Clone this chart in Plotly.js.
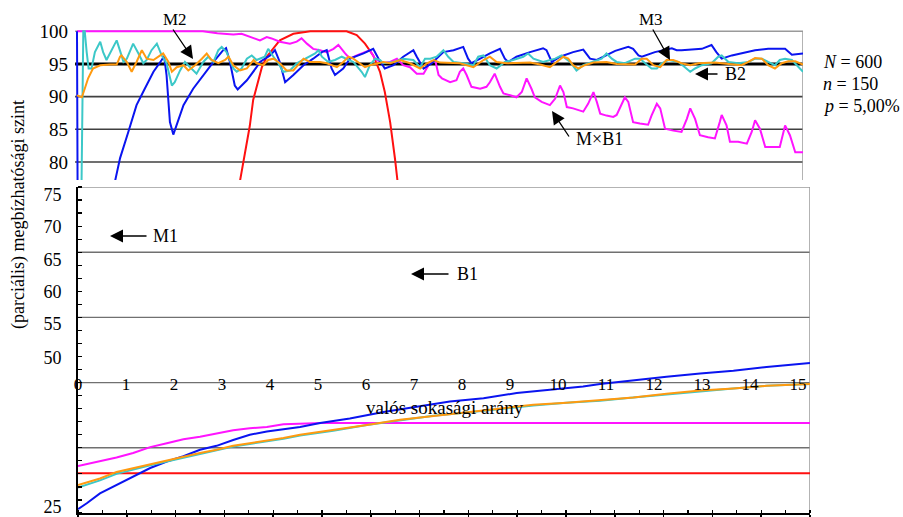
<!DOCTYPE html>
<html><head><meta charset="utf-8">
<script src="https://cdn.plot.ly/plotly-3.0.1.min.js"></script>
<style>html,body{margin:0;padding:0;background:#fff}#chart{width:903px;height:517px}</style>
</head><body><div id="chart"></div>
<script>
// ---------- data (x = valós sokasági arány, y = megbízhatósági szint) ----------
const blueTop = [[0,100],[0.03,40],[0.79,77.2],[0.89,80.6],[1.06,84.6],[1.23,88.7],[1.40,91.2],[1.58,93.8],[1.75,95.6],[1.80,96.2],[1.85,93.3],[1.92,86.1],[1.99,84.2],[2.06,85.6],[2.20,88.7],[2.40,91.2],[2.61,93.3],[2.82,95.3],[3.02,97.1],[3.08,97.4],[3.16,95.3],[3.26,91.7],[3.32,91.1],[3.51,92.5],[3.71,94.5],[3.78,95.3],[3.99,96.3],[4.09,97.1],[4.19,95.3],[4.30,92.2],[4.47,93.3],[4.68,94.8],[4.88,95.8],[5.06,96.8],[5.16,97.1],[5.26,94.3],[5.33,93.3],[5.50,94.3],[5.64,95.8],[5.92,96.6],[6.12,97.3],[6.23,95.8],[6.36,94.3],[6.54,94.8],[6.74,96.1],[6.95,97.1],[7.02,96.1],[7.16,94.3],[7.33,95.1],[7.57,96.8],[7.78,97.1],[7.98,97.6],[8.08,95.8],[8.15,95.1],[8.33,95.8],[8.53,96.6],[8.74,97.3],[8.84,95.8],[8.91,95.3],[9.08,96.1],[9.36,96.8],[9.63,97.4],[9.70,97.1],[9.81,95.3],[9.98,96.1],[10.25,96.8],[10.46,97.2],[10.60,95.8],[10.74,95.6],[10.94,96.3],[11.12,97.0],[11.39,97.6],[11.49,97.3],[11.60,96.3],[11.67,96.1],[11.94,96.8],[12.29,97.4],[12.39,97.1],[12.49,97.1],[12.91,97.3],[13.11,97.9],[13.21,96.8],[13.32,95.8],[13.53,96.3],[13.80,96.8],[14.01,97.1],[14.28,97.3],[14.63,97.3],[14.77,96.4],[15.0,96.6]];
const cyanTop = [[0,50],[0.06,55],[0.13,100],[0.16,100],[0.20,96.8],[0.24,94.3],[0.30,94.3],[0.37,96.8],[0.48,98.4],[0.54,96.8],[0.61,95.6],[0.72,97.3],[0.82,98.6],[0.92,96.3],[0.96,95.3],[1.03,95.8],[1.16,98.1],[1.27,96.6],[1.37,95.1],[1.44,95.6],[1.54,97.1],[1.65,98.1],[1.75,96.3],[1.85,95.1],[1.96,91.7],[2.02,92.2],[2.13,94.0],[2.23,95.3],[2.37,94.3],[2.47,93.5],[2.61,95.3],[2.71,96.1],[2.82,95.3],[2.92,97.1],[2.99,97.6],[3.09,96.8],[3.23,94.3],[3.30,93.8],[3.40,94.3],[3.51,95.8],[3.61,96.3],[3.71,95.6],[3.88,96.1],[3.95,97.3],[4.06,96.1],[4.16,95.1],[4.26,93.8],[4.40,94.0],[4.54,95.1],[4.71,95.8],[4.92,96.6],[4.99,97.1],[5.06,96.1],[5.19,95.3],[5.33,95.6],[5.47,96.1],[5.57,95.8],[5.71,95.3],[5.88,93.8],[5.95,93.0],[6.05,94.8],[6.16,95.8],[6.26,95.6],[6.33,95.1],[6.54,95.3],[6.74,95.8],[6.95,95.6],[7.09,94.5],[7.19,95.8],[7.30,95.8],[7.43,96.1],[7.57,97.1],[7.67,96.1],[7.78,95.3],[7.98,95.1],[8.19,94.8],[8.29,96.1],[8.40,96.3],[8.53,94.8],[8.67,94.3],[8.84,95.3],[9.01,95.6],[9.22,96.1],[9.32,96.6],[9.43,95.8],[9.63,95.3],[9.88,95.8],[10.01,96.3],[10.19,95.3],[10.32,94.0],[10.46,94.8],[10.67,95.3],[10.84,95.8],[10.94,96.6],[11.05,95.8],[11.15,95.3],[11.32,95.1],[11.53,95.8],[11.63,95.8],[11.74,95.1],[11.87,94.3],[11.98,94.3],[12.08,95.1],[12.22,95.6],[12.43,95.3],[12.56,94.5],[12.67,93.8],[12.77,94.3],[12.91,94.8],[13.11,95.1],[13.25,96.1],[13.32,96.3],[13.46,95.3],[13.66,95.1],[13.87,95.3],[14.01,95.8],[14.15,95.8],[14.28,95.3],[14.42,94.8],[14.52,95.6],[14.63,95.8],[14.77,95.6],[14.90,94.5],[15.0,93.8]];
const orangeTop = [[0,90.2],[0.10,89.9],[0.16,91.2],[0.23,92.8],[0.33,94.3],[0.48,94.8],[0.68,94.9],[0.82,94.9],[0.89,96.1],[0.92,96.3],[1.03,95.3],[1.13,93.8],[1.23,95.3],[1.34,97.1],[1.44,95.8],[1.58,95.6],[1.72,96.3],[1.78,96.6],[1.89,95.3],[1.96,93.8],[2.06,94.5],[2.20,94.8],[2.30,94.0],[2.44,94.8],[2.58,95.8],[2.68,96.6],[2.78,95.6],[2.92,95.1],[3.06,95.6],[3.13,96.1],[3.23,94.8],[3.37,94.0],[3.51,94.3],[3.65,95.6],[3.71,95.1],[3.85,94.8],[3.95,95.6],[4.06,95.8],[4.19,95.1],[4.33,94.0],[4.47,94.0],[4.61,95.3],[4.68,95.8],[4.81,95.3],[5.02,95.3],[5.16,95.1],[5.37,94.5],[5.50,95.3],[5.61,96.1],[5.71,95.8],[5.85,95.1],[5.95,94.5],[6.05,94.8],[6.19,95.1],[6.33,95.3],[6.47,95.1],[6.68,95.6],[6.88,95.1],[7.09,94.3],[7.23,95.1],[7.37,95.6],[7.50,95.2],[7.71,95.1],[7.91,95.1],[8.19,94.5],[8.40,95.6],[8.53,96.1],[8.67,95.3],[8.88,95.1],[9.15,95.1],[9.36,95.2],[9.57,94.9],[9.77,94.5],[9.91,95.3],[10.05,96.1],[10.15,95.8],[10.25,94.8],[10.36,94.3],[10.49,94.8],[10.67,95.2],[10.94,95.3],[11.15,95.0],[11.39,94.9],[11.53,94.9],[11.67,95.8],[11.77,95.8],[11.91,94.8],[12.05,94.5],[12.18,95.6],[12.32,95.6],[12.49,95.1],[12.67,94.8],[12.84,95.1],[13.18,95.2],[13.46,95.0],[13.73,94.8],[13.87,95.3],[14.01,95.9],[14.15,95.8],[14.28,94.8],[14.42,94.3],[14.56,95.1],[14.70,95.4],[14.84,95.4],[15.0,94.9]];
const magentaTop = [[0,100],[2.0,100],[2.3,99.9],[2.6,100],[2.9,99.7],[3.23,99.5],[3.40,99.6],[3.58,99.1],[3.78,98.6],[3.92,99.1],[4.02,98.9],[4.19,98.4],[4.40,98.1],[4.54,98.4],[4.64,98.9],[4.75,98.1],[4.88,97.3],[5.02,97.1],[5.16,96.8],[5.30,97.3],[5.40,97.9],[5.54,96.6],[5.64,95.8],[5.78,96.3],[5.95,96.8],[6.05,97.1],[6.16,95.8],[6.30,95.1],[6.47,95.3],[6.61,95.8],[6.74,94.8],[6.88,94.5],[7.02,93.5],[7.16,93.5],[7.30,95.3],[7.40,95.6],[7.47,93.3],[7.54,92.8],[7.71,92.2],[7.84,92.5],[7.91,93.8],[7.98,94.3],[8.05,93.3],[8.15,91.5],[8.33,91.2],[8.46,91.5],[8.53,92.2],[8.63,93.5],[8.74,91.5],[8.81,90.5],[8.95,90.2],[9.08,89.9],[9.19,90.7],[9.29,92.8],[9.39,91.2],[9.46,89.9],[9.60,89.2],[9.77,88.7],[9.88,89.7],[9.98,91.7],[10.05,90.7],[10.12,88.4],[10.25,88.2],[10.46,87.7],[10.56,88.9],[10.67,90.7],[10.74,89.2],[10.81,87.4],[10.94,87.1],[11.08,86.9],[11.15,87.2],[11.25,88.7],[11.32,89.9],[11.39,89.2],[11.49,86.1],[11.63,85.9],[11.80,85.7],[11.87,87.1],[11.98,88.9],[12.05,88.2],[12.15,85.1],[12.32,84.8],[12.49,84.6],[12.60,86.6],[12.67,88.2],[12.77,86.6],[12.87,84.1],[13.04,83.8],[13.18,83.6],[13.28,86.1],[13.32,87.2],[13.42,85.6],[13.49,83.1],[13.66,83.1],[13.84,82.8],[13.94,84.6],[14.01,86.4],[14.11,85.1],[14.22,82.3],[14.39,82.3],[14.52,82.3],[14.63,85.6],[14.73,84.1],[14.84,81.5],[15.0,81.5]];
const redTop = [[3.30,72],[3.37,77.2],[3.57,85.5],[3.64,89.5],[3.82,94.5],[3.92,96.1],[4.19,98.6],[4.47,99.6],[4.82,100],[5.57,100],[5.78,99.4],[5.95,98.1],[6.12,96.3],[6.26,93.8],[6.36,90.7],[6.47,86.1],[6.57,80.5],[6.64,77.2],[6.70,72]];

const blueBottom = [[0,25.6],[0.18,26.5],[0.45,28.0],[0.79,29.3],[1.13,30.6],[1.48,31.9],[1.82,32.9],[2.16,33.7],[2.50,34.7],[2.84,35.3],[3.18,36.2],[3.52,37.0],[3.87,37.5],[4.21,37.8],[4.55,38.2],[4.96,38.8],[5.57,39.5],[6.26,40.5],[6.94,41.3],[7.62,42.1],[8.31,42.6],[8.99,43.4],[9.67,43.9],[10.35,44.4],[10.70,44.8],[11.38,45.4],[12.06,45.9],[12.75,46.4],[13.43,46.8],[14.11,47.4],[15,48.0]];
const orangeBottom = [[0,29.3],[0.45,30.3],[0.79,31.3],[1.13,31.9],[1.48,32.5],[1.82,33.1],[2.16,33.6],[2.50,34.2],[2.84,34.7],[3.18,35.3],[3.52,35.7],[3.87,36.1],[4.21,36.5],[4.55,37.0],[5.23,37.7],[5.92,38.5],[6.60,39.3],[7.28,39.9],[7.97,40.5],[8.65,41.1],[9.33,41.6],[10.01,41.9],[10.70,42.3],[11.38,42.7],[12.06,43.3],[12.75,43.8],[13.43,44.1],[14.11,44.5],[15,44.8]];
const cyanBottom = [[0,28.9],[0.45,30.0],[0.79,31.0],[1.13,31.7],[1.48,32.3],[1.82,32.9],[2.16,33.5],[2.50,34.1],[2.84,34.6],[3.18,35.2],[3.52,35.6],[3.87,36.0],[4.21,36.4],[4.55,36.9],[5.23,37.6],[5.92,38.5],[6.60,39.2],[7.28,39.9],[7.97,40.4],[8.65,41.0],[9.33,41.5],[10.01,41.9],[10.70,42.2],[11.38,42.7],[12.06,43.2],[12.75,43.7],[13.43,44.1],[14.11,44.5],[15,44.8]];
const magentaBottom = [[0,32.2],[0.45,32.9],[0.79,33.5],[1.13,34.2],[1.48,35.1],[1.82,35.7],[2.16,36.3],[2.50,36.7],[2.84,37.2],[3.18,37.7],[3.52,38.0],[3.87,38.2],[4.21,38.6],[4.55,38.7],[5.0,38.8],[15,38.8]];
const redBottom = [[0,31.1],[15,31.1]];

const topTickVals = [80,85,90,95,100];
const topTickText = ['80','85','90','95','100'];
const bottomLabelPos = [26.0,48.85,53.99,58.9,63.88,68.87,73.77];
const bottomTickText = ['25','50','55','60','65','70','75'];
const xTickVals = [0,1,2,3,4,5,6,7,8,9,10,11,12,13,14,15];
const xTickText = xTickVals.map(String);

// ---------- helpers ----------
const W = 903, H = 517;
const fx = px => px / W;
const fy = py => 1 - py / H;
const FONT = '"Liberation Serif", "Times New Roman", serif';
const C = {blue:'#0a14f0', cyan:'#3cc8c8', orange:'#ff9a10', magenta:'#ff14ff', red:'#ff1010'};

function line(pts, color, xa, ya, w) {
  return {x: pts.map(p=>p[0]), y: pts.map(p=>p[1]), xaxis: xa, yaxis: ya, mode:'lines',
          line:{color: color, width: w || 2}, hoverinfo:'skip', showlegend:false};
}

const data = [
  line(redTop, C.red, 'x', 'y'),
  line(magentaTop, C.magenta, 'x', 'y'),
  line(blueTop, C.blue, 'x', 'y'),
  line(cyanTop, C.cyan, 'x', 'y'),
  line(orangeTop, C.orange, 'x', 'y'),
  line(redBottom, C.red, 'x2', 'y2'),
  line(magentaBottom, C.magenta, 'x2', 'y2'),
  line(blueBottom, C.blue, 'x2', 'y2'),
  line(cyanBottom, C.cyan, 'x2', 'y2'),
  line(orangeBottom, C.orange, 'x2', 'y2'),
  // empty helper trace so that the label axis (x3) is registered and drawn; it has no visible points
  {x: [xTickVals[0], xTickVals[xTickVals.length-1]], y: [null, null], xaxis:'x3', yaxis:'y2',
   mode:'lines', line:{width:0}, hoverinfo:'skip', showlegend:false}
];

const shapes = [];
function hline(xref, yref, yv, color, w) {
  shapes.push({type:'line', layer:'below', xref: xref + ' domain', yref: yref, x0:0, x1:1, y0:yv, y1:yv,
               line:{color:color, width:w}});
}
[80,85,90].forEach(v => hline('x','y',v,'#404040',1.6));
hline('x','y',100,'#9a9a9a',1.5);
hline('x','y',95,'#000000',3);
shapes.push({type:'line', layer:'below', xref:'x', yref:'y', x0:15, x1:15, y0:77.25, y1:100, line:{color:'#9a9a9a', width:1.5}});
[35,45,55,65].forEach(v => hline('x2','y2',v,'#707070',1.4));
hline('x2','y2',75,'#9a9a9a',1.5);
shapes.push({type:'line', layer:'below', xref:'x2', yref:'y2', x0:15, x1:15, y0:25, y1:75, line:{color:'#9a9a9a', width:1.5}});

const annotations = [];
function arrow(hx, hy, tx, ty) {
  annotations.push({xref:'paper', yref:'paper', x: fx(hx), y: fy(hy), ax: tx-hx, ay: ty-hy,
    axref:'pixel', ayref:'pixel', text:'', showarrow:true, arrowhead:2, arrowsize:2,
    arrowwidth:1.3, arrowcolor:'#000', standoff:0, startstandoff:0});
}
function label(cx, cy, txt, size, anchor) {
  annotations.push({xref:'paper', yref:'paper', x: fx(cx), y: fy(cy), text: txt, showarrow:false,
    xanchor: anchor || 'center', yanchor:'middle', font:{family:FONT, size: size || 17, color:'#000'}});
}
arrow(193,59,172,28);  label(174.5,19,'M2',17);
arrow(670,60,652,28);  label(651,19,'M3',17);
arrow(695,74,719,74);  label(735,74,'B2',18);
arrow(552,111,570,138); label(599,139,'M×B1',18);
arrow(110,236,148,236); label(165,236,'M1',18);
arrow(411,274,450,274); label(467.5,274,'B1',18);
label(821,62,'<i>N</i> = 600',18,'left');
label(821,84,'<i>n</i> = 150',18,'left');
label(821,106,'<i>p</i> = 5,00%',18,'left');
label(445,407,'valós sokasági arány',19);
annotations.push({xref:'paper', yref:'paper', x: fx(18), y: fy(215), text:'(parciális) megbízhatósági szint',
  textangle:-90, showarrow:false, xanchor:'center', yanchor:'middle', font:{family:FONT, size:18, color:'#000'}});

const layout = {
  width: W, height: H, margin:{l:0,r:0,t:0,b:0,pad:0},
  paper_bgcolor:'#ffffff', plot_bgcolor:'rgba(0,0,0,0)', showlegend:false,
  font:{family:FONT, size:17, color:'#000'},
  xaxis:{domain:[fx(75.06), fx(803)], range:[-0.04,15], anchor:'y', showline:false, showgrid:false,
         zeroline:false, showticklabels:false, ticks:''},
  yaxis:{domain:[fy(180), fy(28.6)], range:[77.25,100.4], anchor:'x', tickmode:'array',
         tickvals: topTickVals, ticktext: topTickText, ticks:'', showgrid:false, zeroline:false,
         showline:false, ticklabelstandoff:6, tickfont:{family:FONT, size:19}},
  xaxis2:{domain:[fx(78), fx(810)], range:[0,15], anchor:'y2', showline:true, linecolor:'#000', linewidth:2,
          tickmode:'linear', tick0:0, dtick:1, ticks:'outside', ticklen:4, tickwidth:1.5, tickcolor:'#000',
          showticklabels:false, showgrid:false, zeroline:false,
          minor:{tickmode:'linear', tick0:0, dtick:0.5, ticks:'inside', ticklen:3, tickwidth:1.2, tickcolor:'#000', showgrid:false}},
  yaxis2:{domain:[fy(513), fy(187)], range:[25,75], anchor:'x2', tickmode:'array',
          tickvals: bottomLabelPos, ticktext: bottomTickText, ticks:'', showline:true, linecolor:'#000',
          linewidth:2, showgrid:false, zeroline:false, ticklabelstandoff:11, ticklabeloverflow:'allow',
          tickfont:{family:FONT, size:18},
          minor:{tickmode:'linear', tick0:25, dtick:2, ticks:'inside', ticklen:4, tickwidth:1.2, tickcolor:'#000', showgrid:false}},
  xaxis3:{overlaying:'x2', domain:[fx(78), fx(810)], range:[0,15.25], anchor:'free', position: fy(372),
          side:'bottom', tickmode:'array', tickvals: xTickVals, ticktext: xTickText, ticks:'',
          showline:false, showgrid:false, zeroline:false, tickfont:{family:FONT, size:17}},
  shapes: shapes,
  annotations: annotations
};

Plotly.newPlot('chart', data, layout, {staticPlot:true, displayModeBar:false});
</script>
</body></html>
